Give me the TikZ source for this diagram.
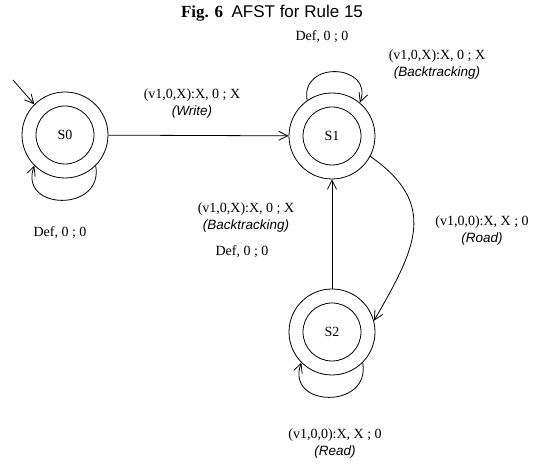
\documentclass[tikz,border=0pt]{standalone}
\usepackage{fontspec}
\setmainfont{Liberation Serif}
\setsansfont{Liberation Sans}
\usetikzlibrary{arrows.meta}

% italic sans used for the action names under each transition
\newcommand\acttag{\fontsize{13.5}{16}\sffamily\itshape}

\tikzset{
  ring/.style={circle, draw, line width=0.8pt, minimum size=86pt, inner sep=0pt},
  core/.style={circle, draw, line width=0.8pt, minimum size=58pt, inner sep=0pt,
               font=\fontsize{14}{16}\selectfont},
  edge/.style={line width=0.8pt, -{Straight Barb[length=9pt,width=9pt,line width=0.8pt]}},
  lbl/.style={align=center, inner sep=0pt, font=\fontsize{14}{17}\selectfont}
}

\begin{document}
\begin{tikzpicture}[x=1pt, y=1pt]
  \useasboundingbox (0,0) rectangle (541,465);

  % caption
  \node[inner sep=0pt] (title) at (272,452)
    {\fontsize{17}{19}\selectfont\textbf{Fig. 6}\ \ \sffamily AFST for Rule 15};

  % states (double circles)
  \node[ring] (S0) at (65,330) {};
  \node[core] (S0c) at (65,330) {S0};
  \node[ring] (S1) at (332,329) {};
  \node[core] (S1c) at (332,329) {S1};
  \node[ring] (S2) at (332,133) {};
  \node[core] (S2c) at (332,133) {S2};

  % initial arrow
  \coordinate (init) at (13,385);
  \draw[edge] (init) -- (S0.135);

  % transitions
  \draw[edge] (S0) -- (S1);
  \draw[edge] (S2) -- (S1);
  \draw[edge] (S1.-28) to[out=-35, in=60, looseness=1.3] (S2.15);

  % self loops
  \draw[edge] (S0.-45) to[out=-80, in=-110, looseness=2] (S0.-135);
  \draw[edge] (S1.125) to[out=100, in=70, looseness=2] (S1.50);
  \draw[edge] (S2.-45) to[out=-80, in=-110, looseness=2] (S2.-135);

  % transition labels
  \node[lbl] (l01) at (192,361) {(v1,0,X):X, 0 ; X\\{\acttag(Write)}};
  \node[lbl] (l11a) at (322,428) {Def, 0 ; 0};
  \node[lbl] (l11b) at (437,400) {(v1,0,X):X, 0 ; X\\{\acttag(Backtracking)}};
  \node[lbl] (l00) at (60,232) {Def, 0 ; 0};
  \node[lbl] (l21) at (246,247) {(v1,0,X):X, 0 ; X\\{\acttag(Backtracking)}};
  \node[lbl] (l21d) at (242,213) {Def, 0 ; 0};
  \node[lbl] (l12) at (482,234) {(v1,0,0):X, X ; 0\\{\acttag(Road)}};
  \node[lbl] (l22) at (335,21) {(v1,0,0):X, X ; 0\\{\acttag(Read)}};
\end{tikzpicture}
\end{document}
